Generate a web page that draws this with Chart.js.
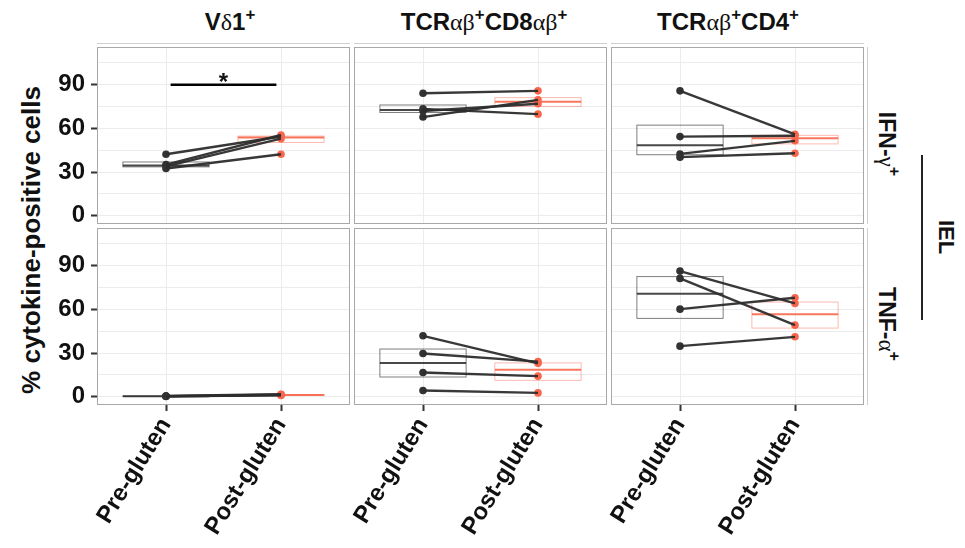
<!DOCTYPE html>
<html>
<head>
<meta charset="utf-8">
<script src="https://cdn.jsdelivr.net/npm/chart.js@4.4.1/dist/chart.umd.min.js"></script>
<style>
  html, body { margin: 0; padding: 0; background: #fff; }
  #wrap { position: relative; width: 965px; height: 548px; overflow: hidden;
          font-family: "Liberation Sans", Arial, sans-serif; color: #111; }
  canvas.layer { position: absolute; left: 0; top: 0; }
  .lbl { position: absolute; font-weight: bold; white-space: nowrap; line-height: 1; }
  .gk { font-family: "Liberation Serif", "DejaVu Serif", serif; font-weight: normal; }
  .sp { font-size: 0.7em; position: relative; top: -0.6em; }
</style>
</head>
<body>
<div id="wrap">
  <!-- column strips -->
  <div class="lbl" style="font-size:24px; left:230px; top:22px; transform:translate(-50%,-50%);">V<span class="gk">δ</span>1<span class="sp">+</span></div>
  <div class="lbl" style="font-size:24px; left:484px; top:22px; transform:translate(-50%,-50%);">TCR<span class="gk">αβ</span><span class="sp">+</span>CD8<span class="gk">αβ</span><span class="sp">+</span></div>
  <div class="lbl" style="font-size:24px; left:728px; top:22px; transform:translate(-50%,-50%);">TCR<span class="gk">αβ</span><span class="sp">+</span>CD4<span class="sp">+</span></div>
  <!-- row strips -->
  <div class="lbl" style="font-size:23px; left:886px; top:144px; transform:translate(-50%,-50%) rotate(90deg);">IFN-<span class="gk">γ</span><span class="sp">+</span></div>
  <div class="lbl" style="font-size:23px; left:886px; top:324px; transform:translate(-50%,-50%) rotate(90deg);">TNF-<span class="gk">α</span><span class="sp">+</span></div>
  <div style="position:absolute; left:921px; top:155px; width:2px; height:165px; background:#222;"></div>
  <div class="lbl" style="font-size:22px; left:946px; top:237px; transform:translate(-50%,-50%) rotate(90deg);">IEL</div>
  <!-- y axis title -->
  <div class="lbl" style="font-size:26px; left:31px; top:240px; transform:translate(-50%,-50%) rotate(-90deg);">% cytokine-positive cells</div>
</div>
<script>
// Timepoints on the x axis and y-axis ticks
const timepoints = ['Pre-gluten', 'Post-gluten'];
const yTickValues = [0, 30, 60, 90];
const yGridValues = [0, 15, 30, 45, 60, 75, 90, 105];

// IFN-γ+ cells (% of subset); index i in pre matches index i in post (same donor)
const vd1IfnPre  = [42.3, 35.2, 34.0, 32.5];
const vd1IfnPost = [54.5, 55.5, 53.0, 42.3];
const cd8IfnPre  = [84.2, 67.8, 72.0, 73.4];
const cd8IfnPost = [85.8, 79.6, 76.9, 69.8];
const cd4IfnPre  = [85.8, 54.4, 42.5, 40.3];
const cd4IfnPost = [56.0, 55.0, 51.5, 43.0];

// TNF-α+ cells (% of subset)
const vd1TnfPre  = [0.6, 0.4, 0.5, 0.3];
const vd1TnfPost = [1.8, 1.2, 1.5, 1.0];
const cd8TnfPre  = [41.9, 29.8, 16.7, 4.4];
const cd8TnfPost = [23.0, 24.2, 14.2, 2.7];
const cd4TnfPre  = [86.3, 81.3, 60.2, 34.8];
const cd4TnfPost = [64.1, 49.2, 68.0, 41.2];

// Significance marker for Vδ1+ IFN-γ+
const sigLevel = 90;
const sigLabel = '*';

const panelRows = [
  [[vd1IfnPre, vd1IfnPost], [cd8IfnPre, cd8IfnPost], [cd4IfnPre, cd4IfnPost]],
  [[vd1TnfPre, vd1TnfPost], [cd8TnfPre, cd8TnfPost], [cd4TnfPre, cd4TnfPost]]
];

// Layout of the facet grid
const W = 965, H = 548;
const colLeft = [97, 354, 611], colW = 253;
const rowTop = [47, 228], rowH = 177;
const yAxisW = 45, xAxisH = 140;
const yMin = -5.6, yMax = 115.9;
const boxHalf = 0.375;

const FONT = '"Liberation Sans", Arial, sans-serif';
const preColor = '#333333';
const postColor = '#F8674D';

function quantile(sorted, p) {
  const h = (sorted.length - 1) * p;
  const lo = Math.floor(h), hi = Math.ceil(h);
  return sorted[lo] + (h - lo) * (sorted[hi] - sorted[lo]);
}

// Draws the box summaries under the data, then the panel frame, strip rules and the significance bar
const panelDecor = {
  id: 'panelDecor',
  beforeDatasetsDraw(chart, args, opts) {
    const { ctx, scales: { x, y } } = chart;
    ctx.save();
    opts.groups.forEach((vals, gi) => {
      const s = [...vals].sort((a, b) => a - b);
      const q1 = quantile(s, 0.25), med = quantile(s, 0.5), q3 = quantile(s, 0.75);
      const x0 = x.getPixelForValue(gi + 1 - boxHalf), x1 = x.getPixelForValue(gi + 1 + boxHalf);
      const yt = y.getPixelForValue(q3), yb = y.getPixelForValue(q1), ym = y.getPixelForValue(med);
      const isPost = gi === 1;
      ctx.lineWidth = 1;
      ctx.strokeStyle = isPost ? 'rgba(248,103,77,0.45)' : 'rgba(40,40,40,0.6)';
      ctx.strokeRect(x0, yt, x1 - x0, yb - yt);
      ctx.beginPath();
      ctx.lineWidth = 2;
      ctx.strokeStyle = isPost ? 'rgba(248,103,77,0.9)' : 'rgba(40,40,40,0.85)';
      ctx.moveTo(x0, ym); ctx.lineTo(x1, ym);
      ctx.stroke();
    });
    ctx.restore();
  },
  afterDraw(chart, args, opts) {
    const { ctx, chartArea: a, scales: { x, y } } = chart;
    ctx.save();
    ctx.strokeStyle = '#a8a8a8';
    ctx.lineWidth = 1;
    ctx.strokeRect(Math.round(a.left) + 0.5, Math.round(a.top) + 0.5, Math.round(a.right - a.left) - 1, Math.round(a.bottom - a.top) - 1);
    ctx.strokeStyle = '#cfcfcf';
    if (opts.stripTop) {
      ctx.beginPath();
      ctx.moveTo(a.left, a.top - 3.5); ctx.lineTo(a.right, a.top - 3.5);
      ctx.stroke();
    }
    if (opts.stripRight) {
      ctx.beginPath();
      ctx.moveTo(a.right + 3.5, a.top); ctx.lineTo(a.right + 3.5, a.bottom);
      ctx.stroke();
    }
    if (opts.sig) {
      const yb = y.getPixelForValue(sigLevel);
      ctx.strokeStyle = '#000';
      ctx.lineWidth = 2.5;
      ctx.beginPath();
      ctx.moveTo(x.getPixelForValue(1.04), yb);
      ctx.lineTo(x.getPixelForValue(1.96), yb);
      ctx.stroke();
      ctx.fillStyle = '#111';
      ctx.font = 'bold 24px ' + FONT;
      ctx.textAlign = 'center';
      ctx.textBaseline = 'alphabetic';
      ctx.fillText(sigLabel, x.getPixelForValue(1.5), yb + 5);
    }
    ctx.restore();
  }
};

const wrap = document.getElementById('wrap');

panelRows.forEach((row, r) => row.forEach(([pre, post], c) => {
  const cv = document.createElement('canvas');
  cv.width = W; cv.height = H; cv.className = 'layer';
  wrap.appendChild(cv);

  const left = colLeft[c], top = rowTop[r];
  const right = left + colW, bottom = top + rowH;
  const showY = c === 0, showX = r === panelRows.length - 1;

  const lines = pre.map((v, i) => ({
    data: [{ x: 1, y: v }, { x: 2, y: post[i] }],
    showLine: true,
    borderColor: 'rgba(45,45,45,0.95)',
    borderWidth: 2.4,
    pointRadius: 0,
    order: 0
  }));
  const points = {
    data: [...pre.map(v => ({ x: 1, y: v })), ...post.map(v => ({ x: 2, y: v }))],
    pointRadius: 3.8,
    pointBorderWidth: 0,
    pointBackgroundColor: [...pre.map(() => preColor), ...post.map(() => postColor)],
    order: 1
  };

  new Chart(cv, {
    type: 'scatter',
    data: { datasets: [...lines, points] },
    options: {
      responsive: false,
      animation: false,
      events: [],
      layout: {
        padding: {
          left: left - (showY ? yAxisW : 0),
          top: top,
          right: W - right,
          bottom: H - bottom - (showX ? xAxisH : 0)
        }
      },
      plugins: {
        legend: { display: false },
        tooltip: { enabled: false },
        panelDecor: {
          groups: [pre, post],
          sig: r === 0 && c === 0,
          stripTop: r === 0,
          stripRight: c === row.length - 1
        }
      },
      scales: {
        x: {
          type: 'linear',
          min: 0.4, max: 2.6,
          afterBuildTicks: s => { s.ticks = timepoints.map((_, i) => ({ value: i + 1 })); },
          afterFit: s => { s.height = showX ? xAxisH : 0; },
          border: { display: false },
          grid: { color: '#ececec', lineWidth: 1, drawTicks: showX, tickLength: 6, tickColor: '#333', tickWidth: 2 },
          ticks: {
            display: showX, autoSkip: false, minRotation: 58, maxRotation: 58, padding: 2,
            color: '#111', font: { family: FONT, weight: 'bold', size: 24 },
            callback: v => timepoints[Math.round(v) - 1] ?? ''
          }
        },
        y: {
          type: 'linear',
          min: yMin, max: yMax,
          afterBuildTicks: s => { s.ticks = yGridValues.map(v => ({ value: v })); },
          afterFit: s => { s.width = showY ? yAxisW : 0; },
          border: { display: false },
          grid: {
            color: '#ececec', lineWidth: 1, drawTicks: showY, tickLength: 6, tickWidth: 2,
            tickColor: ctx => (ctx.tick && yTickValues.includes(ctx.tick.value)) ? '#333' : 'rgba(0,0,0,0)'
          },
          ticks: {
            display: showY, autoSkip: false, padding: 6,
            color: '#111', font: { family: FONT, weight: 'bold', size: 24 },
            callback: v => yTickValues.includes(v) ? String(v) : ''
          }
        }
      }
    },
    plugins: [panelDecor]
  });
}));
</script>
</body>
</html>
